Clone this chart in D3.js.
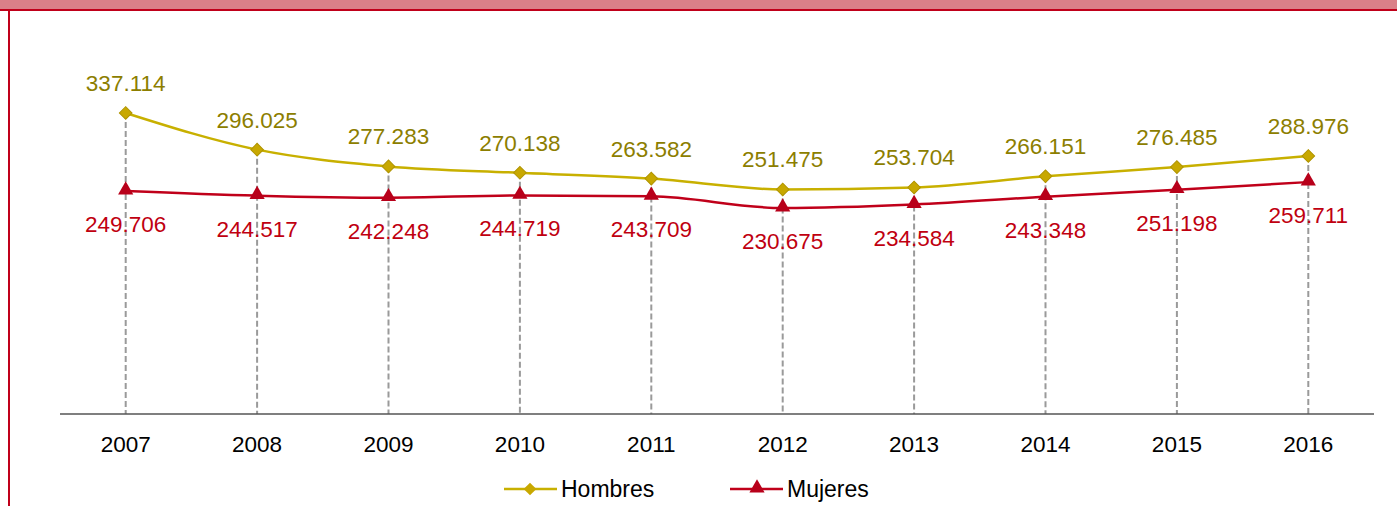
<!DOCTYPE html>
<html><head><meta charset="utf-8">
<script src="https://cdn.jsdelivr.net/npm/d3@7"></script>
<style>body{margin:0;background:#fff}svg{display:block}</style>
</head><body>
<script>
const years = ["2007","2008","2009","2010","2011","2012","2013","2014","2015","2016"];
const hombres = [337114,296025,277283,270138,263582,251475,253704,266151,276485,288976];
const mujeres = [249706,244517,242248,244719,243709,230675,234584,243348,251198,259711];
const seriesNames = ["Hombres","Mujeres"];

const W=1397,H=506;
const FF="'Liberation Sans',Arial,sans-serif";
const svg=d3.select("body").append("svg").attr("width",W).attr("height",H).style("font-family",FF);

svg.append("rect").attr("x",0).attr("y",0).attr("width",W).attr("height",10).attr("fill","#da8088");
svg.append("rect").attr("x",0).attr("y",9).attr("width",W).attr("height",2).attr("fill","#c0001a");
svg.append("rect").attr("x",8).attr("y",9).attr("width",2).attr("height",H).attr("fill","#c0001a");

const x=d3.scaleBand().domain(years).range([60,1374]);
const y=d3.scaleLinear().domain([0,400000]).range([414,414-400000/1119.8]);
const cx=d=>x(d)+x.bandwidth()/2;

// drop lines
svg.append("g").selectAll("line").data(years).join("line")
  .attr("x1",cx).attr("x2",cx).attr("y1",(d,i)=>y(hombres[i])).attr("y2",414)
  .attr("stroke","#9a9a9a").attr("stroke-width",2).attr("stroke-dasharray","6,3");

// axis
const ax=svg.append("g").attr("transform","translate(0,414)").call(d3.axisBottom(x).tickSize(0).tickPadding(22));
ax.select(".domain").remove();
svg.append("line").attr("x1",60).attr("x2",1374).attr("y1",414).attr("y2",414).attr("stroke","#555").attr("stroke-width",1.5);
ax.selectAll("text").attr("font-size",22.5).attr("fill","#000").attr("font-family",FF);

const line=d3.line().x((d,i)=>cx(years[i])).y(d=>y(d)).curve(d3.curveMonotoneX);
const cH="#c8b000", cM="#c0001a";
svg.append("path").attr("d",line(hombres)).attr("fill","none").attr("stroke",cH).attr("stroke-width",2.5);
svg.append("path").attr("d",line(mujeres)).attr("fill","none").attr("stroke",cM).attr("stroke-width",2.5);

const sq=d3.symbol().type(d3.symbolSquare).size(80);
svg.append("g").selectAll("path").data(hombres).join("path")
  .attr("d",sq).attr("transform",(d,i)=>`translate(${cx(years[i])},${y(d)}) rotate(45)`)
  .attr("fill","#c8a800").attr("stroke","#b09400").attr("stroke-width",1);
const tri=d3.symbol().type(d3.symbolTriangle).size(100);
svg.append("g").selectAll("path").data(mujeres).join("path")
  .attr("d",tri).attr("transform",(d,i)=>`translate(${cx(years[i])},${y(d)-1})`)
  .attr("fill","#b8001a");

const fmt=v=>d3.format(",")(v).replace(/,/g,".");
svg.append("g").selectAll("text").data(hombres).join("text")
  .attr("x",(d,i)=>cx(years[i])).attr("y",(d)=>y(d)-22).attr("text-anchor","middle")
  .attr("font-size",22.5).attr("fill","#8c7e00").text(fmt);
svg.append("g").selectAll("text").data(mujeres).join("text")
  .attr("x",(d,i)=>cx(years[i])).attr("y",(d)=>y(d)+41).attr("text-anchor","middle")
  .attr("font-size",22.5).attr("fill","#c00010").text(fmt);

// legend
const lg=svg.append("g");
[[504,cH,"Hombres",0],[730,cM,"Mujeres",1]].forEach(([lx,c,t,k])=>{
  lg.append("line").attr("x1",lx).attr("x2",lx+53).attr("y1",489).attr("y2",489).attr("stroke",c).attr("stroke-width",2.5);
  if(k===0) lg.append("path").attr("d",sq).attr("transform",`translate(${lx+26},489) rotate(45)`).attr("fill","#c8a800");
  else lg.append("path").attr("d",tri).attr("transform",`translate(${lx+27},488)`).attr("fill","#b8001a");
  lg.append("text").attr("x",lx+57).attr("y",497).attr("font-size",23).attr("fill","#000").text(t);
});
</script>
</body></html>
